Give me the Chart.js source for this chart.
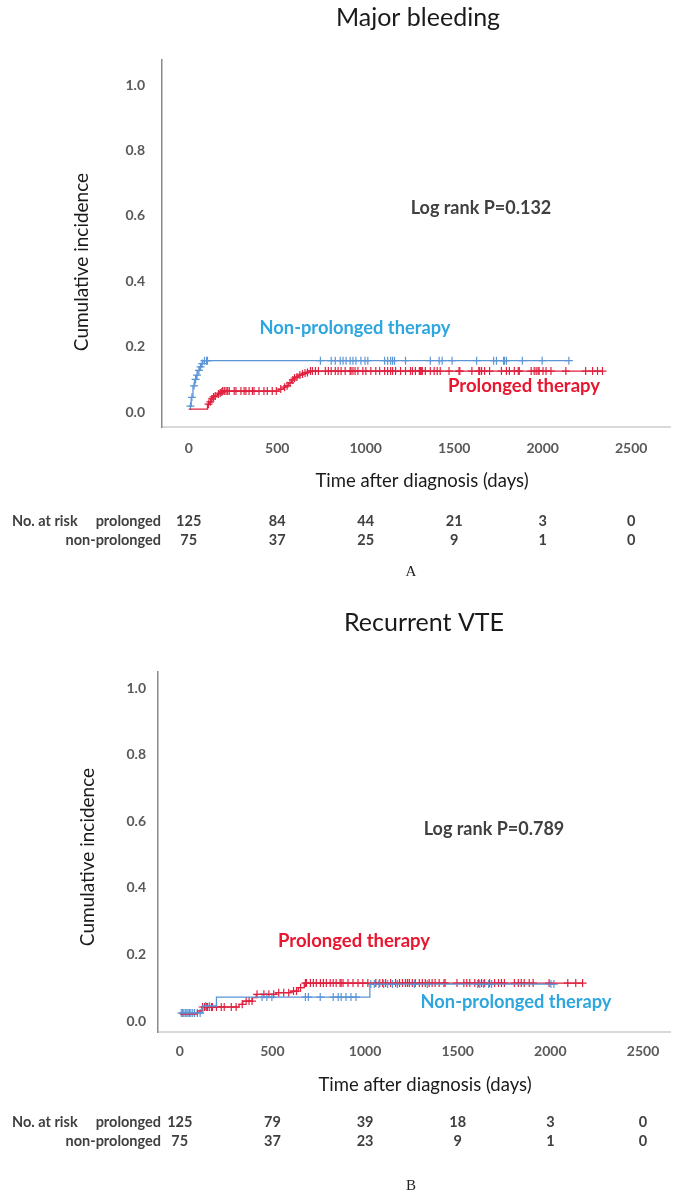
<!DOCTYPE html>
<html>
<head>
<meta charset="utf-8">
<script src="https://cdn.jsdelivr.net/npm/chart.js@4.4.1/dist/chart.umd.min.js"></script>
<style>
  html, body { margin: 0; padding: 0; background: #ffffff; }
  body { width: 676px; height: 1197px; position: relative; overflow: hidden; }
  canvas { position: absolute; left: 0; }
  #chartA { top: 0; }
  #chartB { top: 590px; }
</style>
</head>
<body>
<canvas id="chartA" width="676" height="590"></canvas>
<canvas id="chartB" width="676" height="607"></canvas>
<script>
// ---- shared axis ticks ----
const timeTicks = [0, 500, 1000, 1500, 2000, 2500];
const incidenceTicks = [0, 0.2, 0.4, 0.6, 0.8, 1.0];

// ---- A: major bleeding, cumulative incidence steps (day, value) ----
const bleedProlongedDays = [0, 106, 117, 128, 134, 145, 162, 173, 184, 190, 509, 537, 548, 565, 582, 593, 604, 621, 638, 649, 666, 677, 2338];
const bleedProlongedCI   = [0.009, 0.024, 0.031, 0.040, 0.046, 0.049, 0.055, 0.058, 0.061, 0.064, 0.070, 0.076, 0.080, 0.089, 0.098, 0.104, 0.107, 0.113, 0.116, 0.119, 0.121, 0.125, 0.125];
const bleedProlongedCensored = [112, 122, 131, 140, 150, 168, 178, 187, 192, 201, 211, 220, 229, 257, 267, 295, 313, 323, 341, 360, 369, 397, 425, 444, 472, 495,
  520, 542, 556, 573, 588, 598, 612, 628, 643, 657, 671,
  688, 699, 716, 733, 772, 789, 805, 828, 844, 861, 884, 912, 917, 928, 940, 956, 984, 1001, 1029, 1057, 1079, 1107, 1124, 1141, 1152, 1169, 1197, 1225,
  1253, 1264, 1281, 1303, 1309, 1314, 1320, 1337, 1365, 1387, 1404, 1421, 1471, 1527, 1532, 1600, 1639, 1644, 1655, 1672, 1700, 1767, 1795, 1812, 1840,
  1862, 1868, 1935, 1952, 1963, 1974, 1980, 2002, 2019, 2047, 2131, 2243, 2282, 2310, 2338];

const bleedNonProlongedDays = [0, 14, 24, 34, 43, 52, 62, 71, 80, 2148];
const bleedNonProlongedCI   = [0.018, 0.045, 0.080, 0.100, 0.113, 0.127, 0.138, 0.148, 0.157, 0.157];
const bleedNonProlongedCensored = [10, 18, 30, 39, 47, 58, 67, 76, 89, 101, 106,
  744, 805, 828, 856, 872, 889, 912, 928, 945, 973, 996, 1012, 1107, 1124, 1141, 1152, 1163, 1225, 1365, 1415, 1432, 1488,
  1627, 1723, 1739, 1779, 1784, 1795, 1885, 1997, 2148];

const bleedProlongedAtRisk    = [125, 84, 44, 21, 3, 0];
const bleedNonProlongedAtRisk = [75, 37, 25, 9, 1, 0];

// ---- B: recurrent VTE, cumulative incidence steps (day, value) ----
const vteProlongedDays = [0, 95, 120, 320, 340, 392, 412, 520, 600, 640, 672, 2176];
const vteProlongedCI   = [0.021, 0.030, 0.042, 0.050, 0.060, 0.070, 0.080, 0.085, 0.090, 0.100, 0.114, 0.114];
const vteProlongedCensored = [123, 134, 144, 150, 160, 171, 176, 198, 224, 240, 278, 304, 337, 358, 374, 390,
  417, 454, 481, 507, 534, 561, 588, 614, 630, 652,
  678, 684, 705, 721, 737, 759, 775, 791, 812, 828, 844, 865, 871, 881, 908, 935, 962, 988, 1015, 1058,
  1079, 1095, 1111, 1138, 1165, 1186, 1202, 1218, 1229, 1239, 1255, 1271, 1293, 1309, 1325, 1346, 1362, 1378, 1400, 1426, 1432,
  1496, 1533, 1549, 1565, 1592, 1613, 1629, 1645, 1672, 1699, 1720, 1736, 1752, 1806, 1827, 1843, 1859, 1886, 1907, 1993, 2094, 2137, 2174];

const vteNonProlongedDays = [0, 125, 198, 1026, 2020];
const vteNonProlongedCI   = [0.024, 0.045, 0.072, 0.111, 0.111];
const vteNonProlongedCensored = [8, 15, 22, 30, 38, 45, 52, 60, 70, 80, 95, 110, 140, 160,
  444, 470, 497, 678, 694, 758, 828, 855, 871, 897, 924, 951,
  1031, 1050, 1075, 1100, 1122, 1148, 1175, 1266, 1336, 1608, 1619, 1640, 1667, 1683, 2003, 2019];

const vteProlongedAtRisk    = [125, 79, 39, 18, 3, 0];
const vteNonProlongedAtRisk = [75, 37, 23, 9, 1, 0];

// ---- styling ----
const BLUE_LINE = '#5b95d6';
const RED_LINE  = '#e0213f';
const BLUE_TEXT = '#2ea6de';
const RED_TEXT  = '#e8162e';
const SANS = 'Lato, "Open Sans", sans-serif';

// value of a step curve at time t (last step at or before t)
function stepAt(days, ci, t) {
  let v = ci[0];
  for (let i = 0; i < days.length; i++) if (days[i] <= t) v = ci[i];
  return v;
}

function curveDataset(days, ci, color) {
  return {
    data: days.map((d, i) => ({ x: d, y: ci[i] })),
    borderColor: color, borderWidth: 1.3, stepped: 'before',
    pointRadius: 0, fill: false, tension: 0
  };
}

function censorDataset(marks, days, ci, color) {
  return {
    data: marks.map(t => ({ x: t, y: stepAt(days, ci, t) })),
    showLine: false, pointStyle: 'cross', pointRadius: 4,
    pointBorderWidth: 1.2, pointBorderColor: color, pointBackgroundColor: color,
    borderColor: color
  };
}

function text(ctx, str, x, y, font, color, align, rotate) {
  ctx.save();
  ctx.font = font;
  ctx.fillStyle = color;
  ctx.textAlign = align || 'center';
  ctx.textBaseline = 'middle';
  ctx.translate(x, y);
  if (rotate) ctx.rotate(rotate);
  ctx.fillText(str, 0, 0);
  ctx.restore();
}

// labels, annotations and number-at-risk table drawn around the plot
function extrasPlugin(cfg) {
  return {
    id: 'extras',
    afterDraw(chart) {
      const ctx = chart.ctx;
      const xs = chart.scales.x;
      text(ctx, cfg.title, cfg.titlePos[0], cfg.titlePos[1], '25px ' + SANS, '#1a1a1a');
      text(ctx, 'Cumulative incidence', cfg.yTitlePos[0], cfg.yTitlePos[1], '19px ' + SANS, '#1a1a1a', 'center', -Math.PI / 2);
      text(ctx, 'Time after diagnosis (days)', cfg.xTitlePos[0], cfg.xTitlePos[1], '18.5px ' + SANS, '#1a1a1a');
      text(ctx, cfg.logRank, cfg.logRankPos[0], cfg.logRankPos[1], 'bold 18px ' + SANS, '#404040');
      text(ctx, 'Non-prolonged therapy', cfg.nonLabelPos[0], cfg.nonLabelPos[1], 'bold 18.3px ' + SANS, BLUE_TEXT);
      text(ctx, 'Prolonged therapy', cfg.proLabelPos[0], cfg.proLabelPos[1], 'bold 18.5px ' + SANS, RED_TEXT);

      const tf = 'bold 14.5px ' + SANS, tc = '#404040';
      const [r1, r2] = cfg.riskRows;
      text(ctx, 'No. at risk', 12, r1, tf, tc, 'left');
      text(ctx, 'prolonged', 161, r1, tf, tc, 'right');
      text(ctx, 'non-prolonged', 161, r2, tf, tc, 'right');
      timeTicks.forEach((t, i) => {
        const px = xs.getPixelForValue(t);
        text(ctx, String(cfg.riskPro[i]), px, r1, tf, tc);
        text(ctx, String(cfg.riskNon[i]), px, r2, tf, tc);
      });
      text(ctx, cfg.panel, 411, cfg.panelY, '15px "Liberation Serif", "DejaVu Serif", serif', '#222222');
    }
  };
}

function makeChart(id, g, sets, cfg) {
  const ctx = document.getElementById(id);
  return new Chart(ctx, {
    type: 'line',
    data: { datasets: sets },
    options: {
      responsive: false, animation: false, devicePixelRatio: 1,
      layout: { padding: { top: g.top, left: 0, right: 0, bottom: 0 } },
      plugins: { legend: { display: false }, tooltip: { enabled: false } },
      scales: {
        x: {
          type: 'linear', min: g.xMin, max: g.xMax,
          afterBuildTicks: s => { s.ticks = timeTicks.map(v => ({ value: v })); },
          afterFit: s => { s.height = g.xHeight; },
          grid: { display: false, drawTicks: false },
          border: { display: true, color: '#d9d9d9', width: 2 },
          ticks: { padding: g.xPad, color: '#595959', font: { family: SANS, size: 14, weight: 'bold' }, maxRotation: 0, autoSkip: false,
                   callback: v => String(v) }
        },
        y: {
          type: 'linear', min: g.yMin, max: g.yMax,
          afterBuildTicks: s => { s.ticks = incidenceTicks.map(v => ({ value: v })); },
          afterFit: s => { s.width = g.yWidth; },
          grid: { display: false, drawTicks: false },
          border: { display: true, color: '#8a8a8a', width: 1.5 },
          ticks: { padding: g.yPad, color: '#595959', font: { family: SANS, size: 14, weight: 'bold' },
                   callback: v => Number(v).toFixed(1) }
        }
      }
    },
    plugins: [extrasPlugin(cfg)]
  });
}

// Panel A
makeChart('chartA',
  { top: 60, xHeight: 163, yWidth: 162, xMin: -151, xMax: 2724, yMin: -0.0459, yMax: 1.0765, xPad: 13, yPad: 17 },
  [
    curveDataset(bleedNonProlongedDays, bleedNonProlongedCI, BLUE_LINE),
    curveDataset(bleedProlongedDays, bleedProlongedCI, RED_LINE),
    censorDataset(bleedNonProlongedCensored, bleedNonProlongedDays, bleedNonProlongedCI, BLUE_LINE),
    censorDataset(bleedProlongedCensored, bleedProlongedDays, bleedProlongedCI, RED_LINE)
  ],
  { title: 'Major bleeding', titlePos: [418, 18], yTitlePos: [82, 262], xTitlePos: [422, 481],
    logRank: 'Log rank P=0.132', logRankPos: [481, 208], nonLabelPos: [355, 328], proLabelPos: [524, 386],
    riskRows: [521, 540], riskPro: bleedProlongedAtRisk, riskNon: bleedNonProlongedAtRisk, panel: 'A', panelY: 572 }
);

// Panel B
makeChart('chartB',
  { top: 82, xHeight: 165, yWidth: 158, xMin: -117.5, xMax: 2650, yMin: -0.033, yMax: 1.048, xPad: 11, yPad: 12 },
  [
    curveDataset(vteNonProlongedDays, vteNonProlongedCI, BLUE_LINE),
    curveDataset(vteProlongedDays, vteProlongedCI, RED_LINE),
    censorDataset(vteNonProlongedCensored, vteNonProlongedDays, vteNonProlongedCI, BLUE_LINE),
    censorDataset(vteProlongedCensored, vteProlongedDays, vteProlongedCI, RED_LINE)
  ],
  { title: 'Recurrent VTE', titlePos: [424, 33], yTitlePos: [88, 267], xTitlePos: [425, 495],
    logRank: 'Log rank P=0.789', logRankPos: [494, 239], nonLabelPos: [516, 412], proLabelPos: [354, 351],
    riskRows: [532, 551], riskPro: vteProlongedAtRisk, riskNon: vteNonProlongedAtRisk, panel: 'B', panelY: 596 }
);
</script>
</body>
</html>
